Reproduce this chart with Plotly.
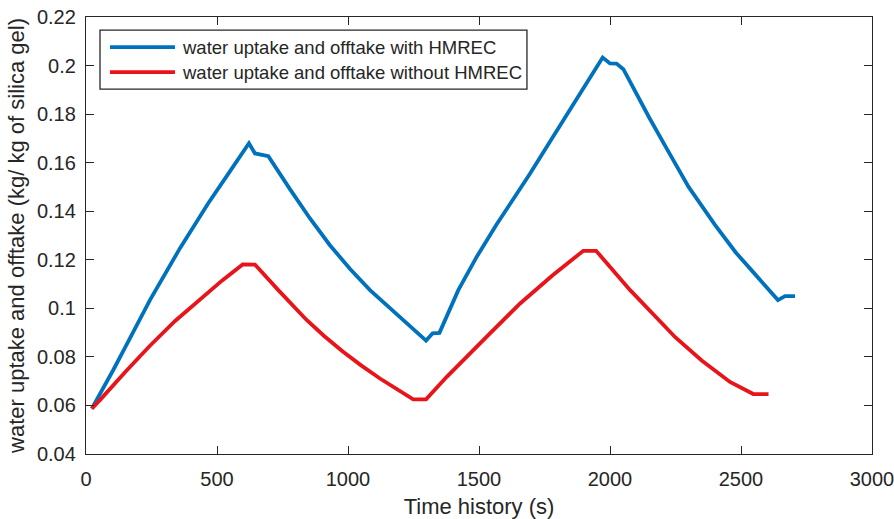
import plotly.graph_objects as go

# ---- data ----
blue_t = [22, 53, 104, 150, 244, 360, 466, 550, 622, 645, 696, 779, 855, 931, 1008, 1084,
          1186, 1298, 1323, 1349, 1421, 1490, 1567, 1695, 1822, 1972, 2000, 2025, 2051,
          2100, 2150, 2216, 2300, 2400, 2480, 2550, 2641, 2668, 2706]
blue_w = [0.0587, 0.0645, 0.0746, 0.0840, 0.1034, 0.1250, 0.1432, 0.1565, 0.1680, 0.1638,
          0.1627, 0.1490, 0.1370, 0.1260, 0.1162, 0.1075, 0.0977, 0.0867, 0.0897, 0.0899,
          0.1075, 0.1210, 0.1345, 0.1555, 0.1775, 0.2033, 0.2009, 0.2008, 0.1985, 0.1885,
          0.1785, 0.1659, 0.1500, 0.1345, 0.1230, 0.1145, 0.1034, 0.1050, 0.1050]

red_t = [22, 53, 155, 244, 340, 435, 520, 598, 645, 734, 842, 910, 980, 1050, 1122, 1249,
         1298, 1377, 1460, 1542, 1657, 1780, 1898, 1947, 2077, 2160, 2250, 2350, 2458, 2547,
         2605]
red_w = [0.0587, 0.0622, 0.0744, 0.0846, 0.0948, 0.1036, 0.1115, 0.1181, 0.1180, 0.1075,
         0.0952, 0.0885, 0.0822, 0.0765, 0.0711, 0.0625, 0.0625, 0.0718, 0.0810, 0.0897,
         0.1020, 0.1135, 0.1237, 0.1237, 0.1075, 0.0980, 0.0880, 0.0785, 0.0697, 0.0647,
         0.0647]

series_names = ["water uptake and offtake with HMREC",
                "water uptake and offtake without HMREC"]

x_ticks = [0, 500, 1000, 1500, 2000, 2500, 3000]
x_labels = ["0", "500", "1000", "1500", "2000", "2500", "3000"]
y_ticks = [0.04, 0.06, 0.08, 0.10, 0.12, 0.14, 0.16, 0.18, 0.20, 0.22]
y_labels = ["0.04", "0.06", "0.08", "0.1", "0.12", "0.14", "0.16", "0.18", "0.2", "0.22"]

BLUE = "#0072BD"
RED = "#E8141A"
INK = "#262626"
FONT = "Liberation Sans, Arial, sans-serif"

fig = go.Figure()
fig.add_trace(go.Scatter(x=blue_t, y=blue_w, mode="lines", name=series_names[0],
                         line=dict(color=BLUE, width=3.8), showlegend=False))
fig.add_trace(go.Scatter(x=red_t, y=red_w, mode="lines", name=series_names[1],
                         line=dict(color=RED, width=3.8), showlegend=False))

# manual MATLAB-style legend box
lx0, lx1, ly0, ly1 = 0.0178, 0.561, 0.835, 0.970
fig.add_shape(type="rect", xref="paper", yref="paper", x0=lx0, x1=lx1, y0=ly0, y1=ly1,
              line=dict(color=INK, width=1.3), fillcolor="white", layer="above")
for name, col, yy in [(series_names[0], BLUE, 0.931), (series_names[1], RED, 0.874)]:
    fig.add_shape(type="line", xref="paper", yref="paper", x0=0.0305, x1=0.1132, y0=yy, y1=yy,
                  line=dict(color=col, width=3.8), layer="above")
    fig.add_annotation(xref="paper", yref="paper", x=0.1196, y=yy, text=name, showarrow=False,
                       xanchor="left", yanchor="middle",
                       font=dict(family=FONT, size=18.5, color=INK))

axis_common = dict(showgrid=False, zeroline=False, showline=True, linecolor=INK, linewidth=1.3,
                   mirror="ticks", ticks="inside", ticklen=8, tickwidth=1.3, tickcolor=INK,
                   ticklabeloverflow="allow", automargin=False,
                   tickfont=dict(family=FONT, size=20, color=INK))

fig.update_xaxes(range=[0, 3000], tickvals=x_ticks, ticktext=x_labels,
                 title=dict(text="Time history (s)", font=dict(family=FONT, size=22, color=INK),
                            standoff=11),
                 ticklabelstandoff=7, **axis_common)
fig.update_yaxes(range=[0.04, 0.22], tickvals=y_ticks, ticktext=y_labels,
                 title=dict(text="water uptake and offtake (kg/ kg of silica gel)",
                            font=dict(family=FONT, size=22, color=INK), standoff=6),
                 ticklabelstandoff=5, **axis_common)

fig.update_layout(width=894, height=519, margin=dict(l=86, r=22, t=17, b=65),
                  paper_bgcolor="white", plot_bgcolor="white",
                  font=dict(family=FONT, color=INK))

fig.write_html("out.html")
